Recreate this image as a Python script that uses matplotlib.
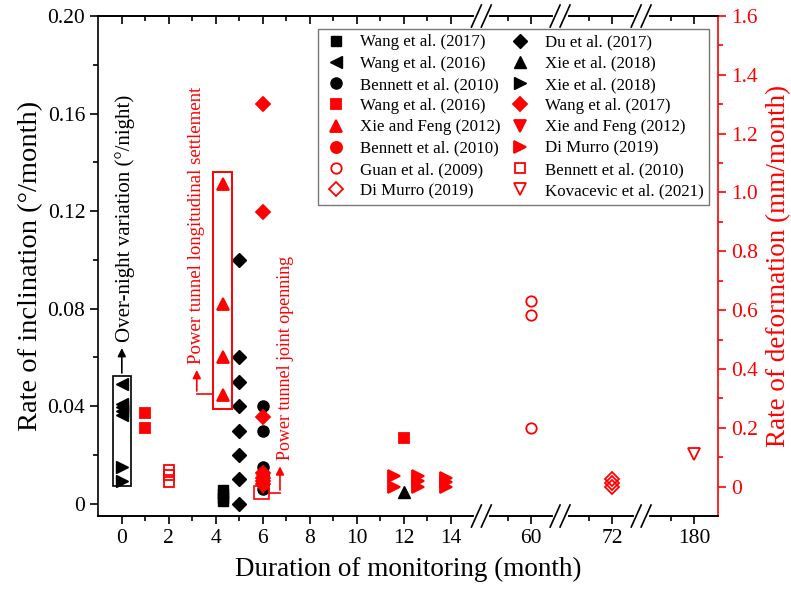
import numpy as np
import matplotlib
matplotlib.use("Agg")
import matplotlib.pyplot as plt
from matplotlib.patches import Rectangle

plt.rcParams["font.family"] = ["Liberation Serif", "DejaVu Serif"]

RED = "#ff0000"

# ---- black series, left axis: rate of inclination (deg/month) ----
wang2017_b_x = [4.3, 4.3, 4.3, 4.3]
wang2017_b_y = [0.0055, 0.004, 0.0025, 0.001]
wang2016_b_x = [0, 0, 0, 0, 0]
wang2016_b_y = [0.049, 0.041, 0.0395, 0.038, 0.0365]
bennett2010_b_x = [6, 6, 6, 6, 6, 6, 6]
bennett2010_b_y = [0.040, 0.030, 0.015, 0.012, 0.010, 0.008, 0.006]
du2017_x = [5, 5, 5, 5, 5, 5, 5, 5]
du2017_y = [0.10, 0.06, 0.05, 0.04, 0.03, 0.02, 0.01, 0.0]
xie2018_up_x = [12]
xie2018_up_y = [0.005]
xie2018_right_x = [0, 0]
xie2018_right_y = [0.015, 0.0095]

# ---- red series, right axis: rate of deformation (mm/month) ----
wang2016_r_x = [1, 1, 12]
wang2016_r_y = [0.25, 0.20, 0.165]
xiefeng_up_x = [4.3, 4.3, 4.3, 4.3]
xiefeng_up_y = [1.03, 0.62, 0.44, 0.31]
bennett2010_r_x = [6, 6]
bennett2010_r_y = [0.03, 0.01]
guan2009_x = [60, 60, 60]
guan2009_y = [0.63, 0.585, 0.20]
dimurro_open_x = [72, 72, 72]
dimurro_open_y = [0.025, 0.012, 0.0]
wang2017_r_x = [6, 6, 6, 6, 6, 6, 6]
wang2017_r_y = [1.30, 0.935, 0.235, 0.045, 0.03, 0.02, 0.01]
xiefeng_down_x = [6, 6]
xiefeng_down_y = [0.02, 0.0]
dimurro_right_x = [11.6, 11.6, 12.6, 12.6, 12.6, 13.8, 13.8, 13.8]
dimurro_right_y = [0.035, 0.0, 0.035, 0.018, 0.0, 0.03, 0.015, 0.0]
bennett2010_open_x = [2, 2, 2]
bennett2010_open_y = [0.058, 0.04, 0.017]
kovacevic2021_x = [180]
kovacevic2021_y = [0.11]

x_ticks = [0, 2, 4, 6, 8, 10, 12, 14, 60, 72, 180]
x_minor = [1, 3, 5, 7, 9, 11, 13, 59, 71, 179]
left_ticks = [0, 0.04, 0.08, 0.12, 0.16, 0.20]
left_labels = ["0", "0.04", "0.08", "0.12", "0.16", "0.20"]
right_ticks = [0, 0.2, 0.4, 0.6, 0.8, 1.0, 1.2, 1.4, 1.6]
right_labels = ["0", "0.2", "0.4", "0.6", "0.8", "1.0", "1.2", "1.4", "1.6"]

# broken x axis: month -> plotting position (piecewise linear)
EPS = 1e-4
SEG_MONTH = np.array([-1.0, 15.3, 57.88, 61.23, 69.79, 73.24, 177.75, 181.0])
SEG_POS = np.array([-1.0, 15.3, 15.3 + EPS, 18.65, 18.65 + EPS, 22.1, 22.1 + EPS, 25.35])
BREAKS = [15.3, 61.23, 73.24]


def fwd(m):
    return np.interp(m, SEG_MONTH, SEG_POS)


def inv(p):
    return np.interp(p, SEG_POS, SEG_MONTH)


fig = plt.figure(figsize=(7.91, 5.98), dpi=100)
ax = fig.add_axes([0.1243, 0.1371, 0.7828, 0.8361])
ax.set_xscale("function", functions=(fwd, inv))
ax.set_xlim(-1, 181)
ax.set_ylim(-0.005, 0.20)

ax2 = ax.twinx()
ax2.set_ylim(-0.1, 1.6)

handles = []


def black(x, y, marker, label, ms=8):
    (h,) = ax.plot(x, y, linestyle="none", marker=marker, color="black",
                   markersize=ms, label=label, clip_on=False)
    handles.append(h)


def red(x, y, marker, label, filled=True, ms=8):
    kw = dict(markerfacecolor=RED) if filled else dict(markerfacecolor="none")
    (h,) = ax2.plot(x, y, linestyle="none", marker=marker, color=RED,
                    markeredgecolor=RED, markeredgewidth=1.3, markersize=ms,
                    label=label, clip_on=False, **kw)
    handles.append(h)


# column 1 of legend
black(wang2017_b_x, wang2017_b_y, "s", "Wang et al. (2017)", 7)
black(wang2016_b_x, wang2016_b_y, "<", "Wang et al. (2016)", 9)
black(bennett2010_b_x, bennett2010_b_y, "o", "Bennett et al. (2010)", 8)
red(wang2016_r_x, wang2016_r_y, "s", "Wang et al. (2016)", ms=7)
red(xiefeng_up_x, xiefeng_up_y, "^", "Xie and Feng (2012)", ms=9)
red(bennett2010_r_x, bennett2010_r_y, "o", "Bennett et al. (2010)", ms=8)
red(guan2009_x, guan2009_y, "o", "Guan et al. (2009)", filled=False, ms=7.5)
red(dimurro_open_x, dimurro_open_y, "D", "Di Murro (2019)", filled=False, ms=7)
# column 2 of legend
black(du2017_x, du2017_y, "D", "Du et al. (2017)", 7.5)
black(xie2018_up_x, xie2018_up_y, "^", "Xie et al. (2018)", 9)
black(xie2018_right_x, xie2018_right_y, ">", "Xie et al. (2018)", 9)
red(wang2017_r_x, wang2017_r_y, "D", "Wang et al. (2017)", ms=7.5)
red(xiefeng_down_x, xiefeng_down_y, "v", "Xie and Feng (2012)", ms=9)
red(dimurro_right_x, dimurro_right_y, ">", "Di Murro (2019)", ms=9)
red(bennett2010_open_x, bennett2010_open_y, "s", "Bennett et al. (2010)", filled=False, ms=6.5)
red(kovacevic2021_x, kovacevic2021_y, "v", "Kovacevic et al. (2021)", filled=False, ms=9)

# annotation boxes and arrows
ax.add_patch(Rectangle((-0.38, 0.0074), 0.76, 0.0451, fill=False, ec="black", lw=1.2, zorder=5))
ax.annotate("", xy=(0, 0.065), xytext=(0, 0.0525),
            arrowprops=dict(arrowstyle="-|>", color="black", lw=1.2, mutation_scale=12))
ax.text(0.12, 0.0665, "Over-night variation (°/night)", rotation=90, ha="center", va="bottom",
        fontsize=15, color="black")

ax.add_patch(Rectangle((3.9, 0.039), 0.78, 0.097, fill=False, ec=RED, lw=1.4, zorder=5))
ax.plot([3.9, 3.19], [0.0451, 0.0451], color=RED, lw=1.2)
ax.annotate("", xy=(3.19, 0.056), xytext=(3.19, 0.0451),
            arrowprops=dict(arrowstyle="-|>", color=RED, lw=1.2, mutation_scale=12))
ax.text(3.19, 0.0575, "Power tunnel longitudinal settlement", rotation=90, ha="center",
        va="bottom", fontsize=13.5, color=RED)

ax.add_patch(Rectangle((5.64, 0.002), 0.64, 0.0054, fill=False, ec=RED, lw=1.2, zorder=5))
ax.plot([6.28, 6.73], [0.0045, 0.0045], color=RED, lw=1.2)
ax.annotate("", xy=(6.73, 0.0165), xytext=(6.73, 0.0045),
            arrowprops=dict(arrowstyle="-|>", color=RED, lw=1.2, mutation_scale=12))
ax.text(6.95, 0.0178, "Power tunnel joint openning", rotation=90, ha="center",
        va="bottom", fontsize=13, color=RED)

# axes styling
ax.set_xticks(x_ticks)
ax.set_xticklabels([str(t) for t in x_ticks])
ax.set_xticks(x_minor, minor=True)
ax.set_yticks(left_ticks)
ax.set_yticklabels(left_labels)
ax.set_yticks(np.arange(0.02, 0.20, 0.04), minor=True)
ax.tick_params(axis="both", which="major", direction="out", length=6, width=1.2, labelsize=15.5)
ax.tick_params(axis="both", which="minor", direction="out", length=3.5, width=1.2)
ax.tick_params(axis="x", top=False)

ax2.set_yticks(right_ticks)
ax2.set_yticklabels(right_labels)
ax2.set_yticks(np.arange(0.1, 1.6, 0.2), minor=True)
ax2.tick_params(axis="y", which="major", direction="out", length=6, width=1.2,
                labelsize=15.5, colors=RED)
ax2.tick_params(axis="y", which="minor", direction="out", length=3.5, width=1.2, colors=RED)
ax2.xaxis.set_visible(True)
ax2.tick_params(axis="x", which="both", bottom=False, top=True, labelbottom=False,
                labeltop=False, direction="in", width=1.2)
ax2.tick_params(axis="x", which="major", length=6)
ax2.tick_params(axis="x", which="minor", length=3.5)

for sp in ax.spines.values():
    sp.set_linewidth(1.2)
for sp in ax2.spines.values():
    sp.set_linewidth(1.2)
ax2.spines["right"].set_color(RED)
ax2.spines["left"].set_visible(False)
ax.spines["right"].set_visible(False)

ax.set_xlabel("Duration of monitoring (month)", fontsize=19.5, labelpad=6)
ax.set_ylabel("Rate of inclination (°/month)", fontsize=20.5, labelpad=3)
ax2.set_ylabel("Rate of deformation (mm/month)", fontsize=19.5, color=RED, rotation=90, labelpad=6)

# axis break marks on bottom and top spines
span = fwd(181) - fwd(-1)
for b in BREAKS:
    f = (fwd(b) - fwd(-1)) / span
    for yb in (0, 1):
        ax2.plot([f - 0.009, f + 0.009], [yb, yb], transform=ax2.transAxes, color="white",
                 lw=3, clip_on=False, zorder=10)
        for off in (-0.008, 0.008):
            ax2.plot([f + off - 0.008, f + off + 0.008], [yb - 0.022, yb + 0.022],
                     transform=ax2.transAxes, color="black", lw=1.2, clip_on=False, zorder=11)

leg = ax2.legend(handles=handles, ncol=2, loc="upper right", bbox_to_anchor=(0.987, 0.975),
                 borderaxespad=0, fontsize=12.2, frameon=True, fancybox=False,
                 edgecolor="#555555", labelspacing=0.31, columnspacing=0.45,
                 handletextpad=0.75, handlelength=1.4, borderpad=0.35)
leg.get_frame().set_linewidth(1.0)
leg.set_zorder(20)

fig.savefig("out.png", dpi=100)
